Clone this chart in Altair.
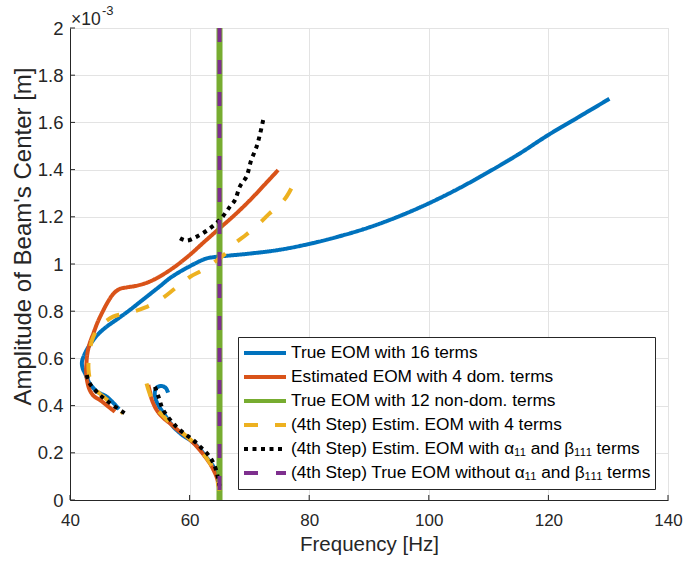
import altair as alt
import pandas as pd

# ---------------- data (amplitude in units of 1e-3 m) ----------------
S1 = "True EOM with 16 terms"
S2 = "Estimated EOM with 4 dom. terms"
S3 = "True EOM with 12 non-dom. terms"
S4 = "(4th Step) Estim. EOM with 4 terms"
S5 = "(4th Step) Estim. EOM with α₁₁ and β₁₁₁ terms"
S6 = "(4th Step) True EOM without α₁₁ and β₁₁₁ terms"
series_names = [S1, S2, S3, S4, S5, S6]
series_colors = ["#0072BD", "#D95319", "#77AC30", "#EDB120", "#000000", "#7E2F8E"]
series_dash = [[1, 0], [1, 0], [1, 0], [14, 17], [4, 4.5], [14, 18]]

x_ticks = [40, 60, 80, 100, 120, 140]
y_ticks = [0, 0.2, 0.4, 0.6, 0.8, 1.0, 1.2, 1.4, 1.6, 1.8, 2.0]

# True EOM with 16 terms
blue_a_f = [130.2, 125, 120, 115, 110, 105, 100, 95, 90, 85, 80, 75, 70, 66.7, 65, 64,
            63, 61.7, 60, 58.9, 56.7, 55, 52.5, 50, 48, 46.1, 44.8, 43.9, 43, 42.4, 42.0, 42.1,
            42.5, 43.3, 44.5, 46.1, 47.3, 48.2]
blue_a_a = [1.70, 1.622, 1.547, 1.465, 1.39, 1.32, 1.257, 1.202, 1.155, 1.117, 1.085, 1.060,
            1.044, 1.036, 1.032, 1.029, 1.025, 1.012, 0.99, 0.975, 0.94, 0.905, 0.855, 0.805,
            0.768, 0.734, 0.705, 0.678, 0.645, 0.615, 0.585, 0.56, 0.537, 0.494, 0.46, 0.438,
            0.41, 0.385]
blue_b_f = [56.4, 56.0, 55.3, 54.6, 54.2, 54.3, 54.8, 55.6, 57.3, 58.8, 60.1, 61.4, 62.3, 63.3,
            64.0, 64.5, 64.8, 65.0, 65.1]
blue_b_a = [0.455, 0.475, 0.483, 0.478, 0.46, 0.43, 0.40, 0.37, 0.31, 0.275, 0.254, 0.225, 0.198,
            0.165, 0.141, 0.11, 0.085, 0.06, 0.035]

# Estimated EOM with 4 dominant terms
orange_a_f = [74.8, 72.5, 70, 67.5, 65, 62.5, 60, 57.5, 55, 53, 51, 49.5, 48.2, 47.2, 46.3, 45.4,
              44.6, 43.9, 43.3, 42.9, 42.75, 42.7, 42.9, 43.3, 44, 45.0, 46.2, 47.5]
orange_a_a = [1.398, 1.335, 1.268, 1.207, 1.151, 1.095, 1.038, 0.988, 0.947, 0.922, 0.907, 0.901,
              0.893, 0.872, 0.838, 0.795, 0.752, 0.705, 0.664, 0.62, 0.58, 0.54, 0.50, 0.466,
              0.44, 0.424, 0.40, 0.374]
orange_b_f = [53.1, 53.4, 53.7, 54.5, 55.5, 56.7, 58, 59.5, 60.7, 61.7, 62.6, 63.4, 64.0, 64.5,
              64.8, 65.0]
orange_b_a = [0.487, 0.455, 0.424, 0.381, 0.35, 0.325, 0.297, 0.268, 0.24, 0.212, 0.183, 0.155,
              0.127, 0.099, 0.07, 0.042]

# True EOM with 12 non-dominant terms (vertical line)
green_f = [65, 65]
green_a = [0, 2]

# (4th Step) Estim. EOM with 4 terms
yellow_a_f = [77.0, 76.2, 75.0, 73.4, 72.0, 69.5, 67.6, 66, 64, 62, 60.1, 57.5, 55, 52.5, 50.6,
              48.5, 47.2, 45.6, 44.5, 43.9, 43.5, 43.3, 43.1, 43.1, 43.3, 43.8, 44.8, 46.2, 47.6,
              48.9]
yellow_a_a = [1.32, 1.285, 1.25, 1.215, 1.18, 1.125, 1.088, 1.045, 1.005, 0.972, 0.946, 0.895,
              0.847, 0.815, 0.798, 0.787, 0.777, 0.749, 0.72, 0.692, 0.66, 0.622, 0.585, 0.551,
              0.515, 0.48, 0.455, 0.425, 0.395, 0.367]
yellow_b_f = [52.8, 53.2, 53.8, 54.7, 55.8, 57, 58.3, 59.7, 61, 62, 62.9, 63.7, 64.3, 64.7, 65.0]
yellow_b_a = [0.494, 0.46, 0.42, 0.38, 0.35, 0.32, 0.295, 0.265, 0.235, 0.205, 0.175, 0.145,
              0.11, 0.075, 0.04]

# (4th Step) Estim. EOM with alpha_11 and beta_111 terms
black_a_f = [72.3, 71.8, 71.2, 70.3, 69.5, 68.4, 67.6, 66.75, 65.3, 63.4, 61.2, 59.5, 58.4]
black_a_a = [1.61, 1.553, 1.497, 1.44, 1.37, 1.328, 1.271, 1.243, 1.194, 1.151, 1.116, 1.099,
             1.109]
black_b_f = [42.8, 43.3, 44.7, 46.7, 49.2]
black_b_a = [0.53, 0.494, 0.452, 0.41, 0.367]
black_c_f = [54.2, 54.8, 55.6, 57.8, 59.2, 60.6, 61.8, 62.9, 63.7, 64.25, 64.6, 64.8, 65.0]
black_c_a = [0.48, 0.438, 0.381, 0.31, 0.28, 0.254, 0.225, 0.198, 0.17, 0.141, 0.11, 0.085,
             0.06]

# (4th Step) True EOM without alpha_11 and beta_111 terms (vertical line)
purple_f = [65, 65]
purple_a = [2, 0]

# ---------------- build table ----------------
rows = []


def add(series, branch, fs, amps):
    for i, (f, a) in enumerate(zip(fs, amps)):
        rows.append({"series": series, "branch": branch, "i": i, "f": f, "a": a})


add(S1, "a", blue_a_f, blue_a_a)
add(S1, "b", blue_b_f, blue_b_a)
add(S2, "a", orange_a_f, orange_a_a)
add(S2, "b", orange_b_f, orange_b_a)
add(S3, "a", green_f, green_a)
add(S4, "a", yellow_a_f, yellow_a_a)
add(S4, "b", yellow_b_f, yellow_b_a)
add(S5, "a", black_a_f, black_a_a)
add(S5, "b", black_b_f, black_b_a)
add(S5, "c", black_c_f, black_c_a)
add(S6, "a", purple_f, purple_a)
df = pd.DataFrame(rows)

PLOT_W, PLOT_H = 598, 472
AX = "#262626"
FONT = "Liberation Sans"

x_enc = alt.X("f:Q", scale=alt.Scale(domain=[40, 140], nice=False, zero=False),
              axis=alt.Axis(values=x_ticks, title="Frequency [Hz]", grid=True,
                            gridColor="#e3e3e3", domainColor=AX, ticks=False, tickSize=0,
                            labelFontSize=17, labelColor=AX, labelPadding=12, labelFlush=False,
                            titleFontSize=20.5, titleFontWeight="normal", titleColor=AX,
                            titlePadding=6, labelFont=FONT, titleFont=FONT))
y_enc = alt.Y("a:Q", scale=alt.Scale(domain=[0, 2], nice=False, zero=False),
              axis=alt.Axis(values=y_ticks, format="~g", title="Amplitude of Beam's Center [m]",
                            grid=True, gridColor="#e3e3e3", domainColor=AX, ticks=False,
                            tickSize=0, labelFontSize=18.5, labelColor=AX, labelPadding=7,
                            labelFlush=False, titleFontSize=24, titleFontWeight="normal",
                            titleColor=AX, titlePadding=2, titleY=208, labelFont=FONT,
                            titleFont=FONT))

legend_cfg = dict(title=None, orient="none", legendX=168, legendY=309,
                  symbolType="stroke", symbolSize=1764, symbolStrokeWidth=4,
                  labelFontSize=17.3, labelFont=FONT, labelColor="#000000", clipHeight=24,
                  padding=4, strokeColor=AX, fillColor="white", labelLimit=600,
                  labelOffset=3, rowPadding=0, symbolOffset=0)
color_enc = alt.Color("series:N", scale=alt.Scale(domain=series_names, range=series_colors),
                      legend=alt.Legend(**legend_cfg))
dash_enc = alt.StrokeDash("series:N", scale=alt.Scale(domain=series_names, range=series_dash),
                          legend=alt.Legend(**legend_cfg))


def series_layer(name, width, interp):
    return (alt.Chart(df)
            .transform_filter(alt.datum.series == name)
            .mark_line(strokeWidth=width, interpolate=interp, strokeCap="butt")
            .encode(x=x_enc, y=y_enc, color=color_enc, strokeDash=dash_enc,
                    detail="branch:N", order=alt.Order("i:Q")))


layers = [
    series_layer(S1, 4, "catmull-rom"),
    series_layer(S2, 4, "catmull-rom"),
    series_layer(S3, 6, "linear"),
    series_layer(S4, 4, "catmull-rom"),
    series_layer(S5, 4, "catmull-rom"),
    series_layer(S6, 4, "linear"),
]

# inward ticks (MATLAB style)
xt = alt.Chart(pd.DataFrame({"f": x_ticks})).mark_rule(color=AX, strokeWidth=1).encode(
    x="f:Q", y=alt.value(PLOT_H), y2=alt.value(PLOT_H - 5))
yt = alt.Chart(pd.DataFrame({"a": y_ticks})).mark_rule(color=AX, strokeWidth=1).encode(
    y="a:Q", x=alt.value(0), x2=alt.value(5))

# exponent label
exp_base = alt.Chart(pd.DataFrame({"t": ["×10"]})).mark_text(
    align="left", baseline="alphabetic", fontSize=17.5, font=FONT, color=AX).encode(
    x=alt.value(1), y=alt.value(-3), text="t:N")
exp_pow = alt.Chart(pd.DataFrame({"t": ["-3"]})).mark_text(
    align="left", baseline="alphabetic", fontSize=13, font=FONT, color=AX).encode(
    x=alt.value(32), y=alt.value(-13), text="t:N")

chart = alt.layer(*layers, xt, yt, exp_base, exp_pow).properties(
    width=PLOT_W, height=PLOT_H,
    autosize=alt.AutoSizeParams(type="none"),
    padding={"left": 70, "top": 28, "right": 18, "bottom": 65},
    background="white",
).configure_view(stroke=None).configure(font=FONT)

chart.save("out.html", embed_options={"renderer": "svg", "actions": False})
